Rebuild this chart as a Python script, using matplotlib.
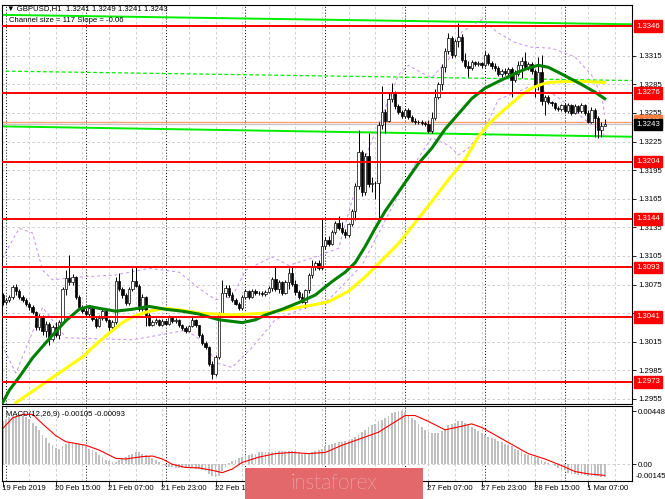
import numpy as np
import matplotlib
matplotlib.use('Agg')
import matplotlib.pyplot as plt
from matplotlib.patches import Rectangle
from matplotlib.transforms import blended_transform_factory

plt.rcParams['font.family'] = ['Liberation Sans', 'DejaVu Sans']

# GBPUSD H1, prices in 1e-4 units
closes = [13057, 13059, 13062, 13072, 13068, 13062, 13059, 13055, 13051, 13046,
          13030, 13041, 13026, 13034, 13018, 13030, 13022, 13036, 13070, 13082,
          13078, 13083, 13062, 13051, 13047, 13044, 13050, 13039, 13031, 13040,
          13047, 13038, 13030, 13036, 13079, 13070, 13064, 13056, 13070, 13079,
          13073, 13049, 13062, 13043, 13033, 13036, 13038, 13033, 13037, 13034,
          13041, 13037, 13038, 13032, 13029, 13026, 13031, 13038, 13032, 13022,
          13014, 13009, 12992, 12981, 12999, 13044, 13066, 13071, 13064, 13059,
          13055, 13050, 13062, 13068, 13062, 13068, 13066, 13066, 13065, 13067,
          13071, 13081, 13070, 13078, 13066, 13078, 13087, 13076, 13067, 13062,
          13057, 13069, 13085, 13094, 13098, 13092, 13115, 13122, 13118, 13130,
          13140, 13134, 13130, 13127, 13138, 13152, 13178, 13214, 13172, 13210,
          13180, 13182, 13181, 13242, 13256, 13247, 13270, 13276, 13262, 13256,
          13252, 13258, 13251, 13247, 13245, 13246, 13244, 13243, 13236, 13250,
          13272, 13285, 13303, 13320, 13334, 13316, 13331, 13335, 13311, 13304,
          13302, 13308, 13306, 13307, 13305, 13316, 13307, 13304, 13302, 13296,
          13299, 13297, 13301, 13290, 13296, 13305, 13310, 13303, 13306, 13299,
          13283, 13298, 13268, 13272, 13266, 13265, 13260, 13259, 13263, 13257,
          13263, 13255, 13262, 13257, 13263, 13255, 13246, 13258, 13250, 13237,
          13241, 13243]
highs = [13066, 13061, 13064, 13074, 13076, 13070, 13064, 13061, 13057, 13053,
         13047, 13044, 13043, 13037, 13036, 13032, 13036, 13038, 13072, 13090,
         13106, 13086, 13084, 13064, 13053, 13050, 13052, 13051, 13041, 13043,
         13049, 13048, 13039, 13038, 13083, 13087, 13072, 13066, 13072, 13092,
         13094, 13076, 13065, 13063, 13045, 13038, 13040, 13039, 13039, 13038,
         13043, 13042, 13040, 13039, 13034, 13031, 13033, 13042, 13039, 13033,
         13024, 13016, 13010, 12995, 13001, 13046, 13080, 13074, 13074, 13067,
         13061, 13057, 13064, 13070, 13069, 13070, 13070, 13068, 13068, 13069,
         13073, 13083, 13094, 13080, 13079, 13080, 13092, 13094, 13080, 13069,
         13066, 13070, 13087, 13101, 13100, 13101, 13145, 13125, 13126, 13132,
         13142, 13147, 13141, 13133, 13140, 13154, 13182, 13237, 13216, 13213,
         13234, 13188, 13184, 13246, 13283, 13259, 13276, 13286, 13278, 13264,
         13258, 13260, 13260, 13253, 13250, 13248, 13248, 13247, 13248, 13256,
         13280, 13288, 13306, 13323, 13339, 13336, 13333, 13349, 13338, 13318,
         13310, 13311, 13310, 13310, 13309, 13320, 13318, 13310, 13307, 13304,
         13301, 13302, 13303, 13303, 13300, 13310, 13314, 13319, 13309, 13308,
         13301, 13314, 13316, 13274, 13274, 13268, 13266, 13262, 13264, 13265,
         13265, 13264, 13264, 13263, 13265, 13264, 13258, 13261, 13260, 13252,
         13245, 13249]
lows = [13053, 13055, 13057, 13060, 13064, 13060, 13057, 13052, 13048, 13044,
        13027, 13027, 13022, 13020, 13011, 13016, 13020, 13018, 13034, 13064,
        13075, 13074, 13060, 13049, 13045, 13042, 13041, 13037, 13029, 13030,
        13038, 13036, 13025, 13027, 13034, 13068, 13061, 13053, 13054, 13068,
        13072, 13047, 13047, 13031, 13031, 13031, 13034, 13031, 13031, 13032,
        13032, 13035, 13035, 13030, 13027, 13024, 13025, 13030, 13030, 13020,
        13012, 13007, 12990, 12976, 12979, 12997, 13042, 13062, 13062, 13057,
        13053, 13048, 13048, 13060, 13060, 13061, 13064, 13064, 13063, 13063,
        13066, 13068, 13068, 13066, 13064, 13065, 13070, 13073, 13064, 13060,
        13056, 13050, 13066, 13082, 13090, 13090, 13090, 13112, 13115, 13116,
        13128, 13132, 13128, 13124, 13125, 13136, 13143, 13175, 13168, 13169,
        13177, 13172, 13165, 13142, 13238, 13234, 13245, 13266, 13259, 13254,
        13250, 13250, 13249, 13245, 13243, 13243, 13242, 13241, 13234, 13234,
        13248, 13270, 13279, 13298, 13317, 13313, 13314, 13324, 13309, 13302,
        13293, 13300, 13304, 13304, 13302, 13303, 13305, 13301, 13299, 13294,
        13293, 13295, 13295, 13272, 13287, 13294, 13292, 13301, 13300, 13296,
        13272, 13279, 13263, 13253, 13264, 13262, 13258, 13257, 13257, 13255,
        13255, 13253, 13254, 13255, 13255, 13253, 13244, 13244, 13230, 13229,
        13230, 13241]
opens = [13064] + closes[:-1]

# moving averages and bands, read at sample bars
ma_green_bars = [0, 2, 5, 9, 14, 19, 23, 26, 29, 34, 39, 44, 49, 54, 59, 65, 72, 76, 79,
                 84, 89, 94, 99, 103, 106, 109, 112, 115, 119, 125, 129, 133, 138, 141,
                 145, 149, 152, 155, 158, 161, 164, 168, 174, 178, 181]
ma_green = [12951, 12964, 12978, 12998, 13018, 13037, 13049, 13052, 13050, 13047, 13049,
            13052, 13049, 13047, 13044, 13038, 13035, 13038, 13043, 13049, 13056, 13064,
            13078, 13088, 13098, 13115, 13134, 13152, 13172, 13202, 13218, 13238, 13258,
            13270, 13281, 13288, 13293, 13298, 13302, 13305, 13303, 13296, 13285, 13277,
            13270]
ma_yellow_bars = [4, 9, 14, 19, 24, 28, 32, 36, 39, 44, 49, 54, 59, 64, 69, 74, 79, 84,
                  89, 94, 98, 104, 109, 113, 119, 124, 129, 134, 139, 143, 146, 149, 152,
                  156, 159, 162, 164, 169, 175, 181]
ma_yellow = [12951, 12963, 12975, 12987, 12999, 13012, 13024, 13035, 13041, 13047, 13050,
             13048, 13045, 13044, 13043, 13044, 13045, 13048, 13051, 13054, 13057, 13068,
             13083, 13097, 13118, 13140, 13162, 13185, 13206, 13230, 13243, 13253, 13262,
             13274, 13281, 13285, 13287, 13288, 13288, 13287]
band_up_bars = [-1, 5, 9, 12, 15, 24, 34, 44, 53, 59, 64, 69, 73, 81, 86, 94, 101, 108,
                115, 119, 122, 126, 129, 134, 138, 144, 149, 154, 159, 165, 172, 177, 180, 181]
band_up = [13097, 13134, 13129, 13090, 13080, 13083, 13085, 13092, 13088, 13071, 13059,
           13062, 13090, 13104, 13095, 13104, 13113, 13200, 13260, 13295, 13305, 13297,
           13292, 13311, 13340, 13353, 13339, 13329, 13324, 13323, 13314, 13295, 13274, 13253]
band_lo_bars = [-1, 4, 12, 19, 39, 44, 55, 61, 64, 69, 75, 82, 89, 98, 108, 120, 125,
                129, 134, 137, 140, 145, 149, 158, 165, 171, 175, 180, 181]
band_lo = [13017, 12982, 13051, 13019, 13017, 13020, 13027, 13014, 12993, 12988, 13009,
           13038, 13048, 13059, 13095, 13176, 13208, 13229, 13221, 13211, 13218, 13239,
           13269, 13282, 13276, 13261, 13248, 13237, 13230]

# regression channel (ends at left edge and right edge)
channel_bars = [-1, 190]
channel_upper = [13358, 13348]
channel_mid = [13299, 13289]
channel_lower = [13241, 13230]

levels = [1.3346, 1.3276, 1.3204, 1.3144, 1.3093, 1.3041, 1.2973]
bid, ask = 1.3243, 1.3246
price_ticks = [1.2955, 1.2985, 1.3015, 1.3045, 1.3075, 1.3105, 1.3135,
               1.3165, 1.3195, 1.3225, 1.3255, 1.3285, 1.3315]

# MACD histogram and signal line samples (1e-4 units)
macd_hist = [36, 38, 40, 41, 41, 41, 41, 40, 38, 35, 32, 29, 25, 22, 18, 16, 14, 13, 15, 17,
             18, 19, 18, 17, 16, 15, 13, 12, 10, 8, 6, 4, 3, 2, 2, 4, 5, 6, 8, 9,
             10, 10, 9, 8, 7, 5, 4, 2, 0, -1, -2, -2, -3, -3, -3, -3, -3, -3, -4, -4,
             -5, -6, -8, -10, -11, -10, -6, -2, 1, 3, 4, 5, 6, 7, 8, 9, 9, 10, 10, 10,
             10, 10, 11, 11, 11, 11, 11, 11, 11, 10, 9, 9, 9, 10, 11, 12, 13, 15, 16, 17,
             18, 19, 19, 20, 20, 21, 23, 25, 27, 29, 31, 33, 34, 36, 37, 39, 41, 43, 44, 45,
             45, 44, 41, 39, 37, 34, 31, 29, 27, 26, 26, 26, 28, 30, 33, 34, 35, 36, 36, 35,
             33, 31, 30, 28, 26, 25, 23, 22, 21, 20, 19, 17, 16, 15, 13, 12, 11, 9, 8, 7,
             6, 5, 4, 2, 1, 0, -1, -3, -4, -5, -7, -8, -8, -9, -9, -9, -10, -10, -10, -10,
             -11, -10.5]
signal_bars = [0, 3, 6, 9, 12, 16, 19, 25, 29, 34, 37, 42, 45, 48, 51, 55, 59, 63, 66, 69,
               72, 77, 82, 87, 92, 97, 102, 106, 113, 121, 124, 128, 133, 138, 141, 144,
               151, 158, 163, 168, 172, 176, 181]
signal = [30, 39, 42, 42, 34, 24, 19, 16, 12, 5, 4.5, 6.5, 7, 4.5, 0, -2.6, -3, -5, -7, -4,
          1.6, 6, 9, 10, 9, 10, 16, 20, 27, 41, 41, 36, 29, 32, 34, 31, 20, 9, 4.5, -1,
          -6, -8, -9.3]

# time axis: ticks every 16 bars; labels under the watermark are not visible
tick_bars = [0, 16, 32, 48, 64, 80, 96, 112, 128, 144, 160, 176]
time_bars = [0, 16, 32, 48, 64, 128, 144, 160, 176]
time_labels = ['19 Feb 2019', '20 Feb 15:00', '21 Feb 07:00', '21 Feb 23:00', '22 Feb 15:00',
               '27 Feb 07:00', '27 Feb 23:00', '28 Feb 15:00', '1 Mar 07:00']
day_bars = [1, 25, 49, 73, 97, 121, 145, 169]

P = 1e-4
o = np.array(opens) * P
h = np.array(highs) * P
l = np.array(lows) * P
c = np.array(closes) * P
n = len(c)
x = np.arange(n)

W, H = 665, 499
fs = 5.6


def rect(left, top, right, bottom):
    return [left / W, 1 - bottom / H, (right - left) / W, (bottom - top) / H]


fig = plt.figure(figsize=(W / 100, H / 100), dpi=100)
fig.patch.set_facecolor('white')
ax = fig.add_axes(rect(2, 5, 632, 404))
mx = fig.add_axes(rect(2, 406, 632, 481))

for a in (ax, mx):
    a.set_xlim(-0.2, 189.2)
    for s in a.spines.values():
        s.set_color('black')
        s.set_linewidth(0.8)
    for b in range(8, 190, 8):
        a.axvline(b, color='#c8c8c8', lw=0.6, ls=(0, (3, 3)), zorder=0)
    for b in day_bars:
        a.axvline(b, color='black', lw=0.7, ls=(0, (1, 2)), zorder=0.5)

# main price panel
ax.set_ylim(1.29496, 1.33683)
ax.yaxis.tick_right()
ax.set_yticks(price_ticks)
ax.set_yticklabels(['%.4f' % t for t in price_ticks])
ax.tick_params(axis='y', labelsize=fs, length=3, width=0.6, pad=1.5)
ax.set_xticks([])
for t in price_ticks:
    ax.axhline(t, color='#c8c8c8', lw=0.6, ls=(0, (3, 3)), zorder=0)

ax.plot(channel_bars, np.array(channel_upper) * P, color='#00ee00', lw=1.4, zorder=1.5)
ax.plot(channel_bars, np.array(channel_lower) * P, color='#00ee00', lw=1.4, zorder=1.5)
ax.plot(channel_bars, np.array(channel_mid) * P, color='#00ee00', lw=0.9,
        ls=(0, (3, 2)), zorder=1.5)

ax.axhline(ask, color='#ffa07a', lw=1.0, zorder=1.4)
ax.axhline(bid, color='#c8c8c8', lw=1.0, zorder=1.4)

ax.plot(band_up_bars, np.array(band_up) * P, color='#c78ef0', lw=0.7, ls=(0, (3, 3)), zorder=1.6)
ax.plot(band_lo_bars, np.array(band_lo) * P, color='#c78ef0', lw=0.7, ls=(0, (3, 3)), zorder=1.6)

up = c >= o
ax.vlines(x, l, h, color='black', lw=0.7, zorder=2)
ax.bar(x, np.maximum(np.abs(c - o), 0.00002), bottom=np.minimum(o, c), width=0.7,
       color=np.where(up, 'white', 'black'), edgecolor='black', linewidth=0.5, zorder=2.1)

ax.plot(ma_yellow_bars, np.array(ma_yellow) * P, color='#ffff00', lw=2.2, zorder=3,
        solid_joinstyle='round')
ax.plot(ma_green_bars, np.array(ma_green) * P, color='#008000', lw=2.2, zorder=3.1,
        solid_joinstyle='round')

for lv in levels:
    ax.axhline(lv, color='#ff0000', lw=1.4, zorder=4)

tr = blended_transform_factory(ax.transAxes, ax.transData)
lx = (636 - 2) / 630
for lv in levels:
    ax.text(lx, lv, '%.4f' % lv, transform=tr, ha='left', va='center', fontsize=fs,
            color='white', clip_on=False, zorder=6,
            bbox=dict(boxstyle='square,pad=0.3', fc='#ff0000', ec='#ff0000'))
ax.text(lx, ask + 0.00004, '%.4f' % ask, transform=tr, ha='left', va='center', fontsize=fs,
        color='white', clip_on=False, zorder=6,
        bbox=dict(boxstyle='square,pad=0.3', fc='#ff7f3f', ec='#ff7f3f'))
ax.text(lx, bid - 0.00002, '%.4f' % bid, transform=tr, ha='left', va='center', fontsize=fs,
        color='white', clip_on=False, zorder=7,
        bbox=dict(boxstyle='square,pad=0.3', fc='black', ec='black'))

fig.text(7 / W, 1 - 9 / H, '\u25bc GBPUSD,H1  1.3241 1.3249 1.3241 1.3243', fontsize=fs,
         ha='left', va='center', color='black')
fig.text(9 / W, 1 - 20 / H, 'Channel size = 117 Slope = -0.06', fontsize=fs,
         ha='left', va='center', color='black')

# MACD panel
mx.set_ylim(-0.0014, 0.0049)
mx.axhline(0, color='#c8c8c8', lw=0.6, ls=(0, (3, 3)), zorder=0)
mx.bar(x, np.array(macd_hist) * P, width=0.55, color='#c0c0c0', zorder=1)
mx.plot(signal_bars, np.array(signal) * P, color='#ff0000', lw=0.8, zorder=2)
mx.yaxis.tick_right()
mx.set_yticks([0.00448, 0.0])
mx.set_yticklabels(['0.00448', '0.00'])
mx.tick_params(axis='y', labelsize=fs, length=3, width=0.6, pad=1.5)
mx.set_xticks(tick_bars)
mx.set_xticklabels([])
mx.tick_params(axis='x', length=4, width=0.6, direction='out')
fig.text(636 / W, 1 - 476 / H, '-0.00145', fontsize=fs, ha='left', va='center')
fig.text(6 / W, 1 - 414 / H, 'MACD(12,26,9) -0.00105 -0.00093', fontsize=fs,
         ha='left', va='center')

ttr = blended_transform_factory(mx.transData, fig.transFigure)
for b, s in zip(time_bars, time_labels):
    mx.text(b - 0.3, 1 - 489 / H, s, transform=ttr, ha='left', va='center',
            fontsize=fs, clip_on=False)

# watermark logo
fig.add_artist(Rectangle((245 / W, 1 - 499 / H), 178 / W, 31 / H,
                         transform=fig.transFigure, fc='#e2686c', ec='none', zorder=10))
fig.text(334 / W, 1 - 483 / H, 'instaforex', fontsize=15, color='white', ha='center',
         va='center', family=['Lato', 'DejaVu Sans'], fontweight='light', zorder=11)

fig.savefig('out.png', dpi=100, facecolor='white')
